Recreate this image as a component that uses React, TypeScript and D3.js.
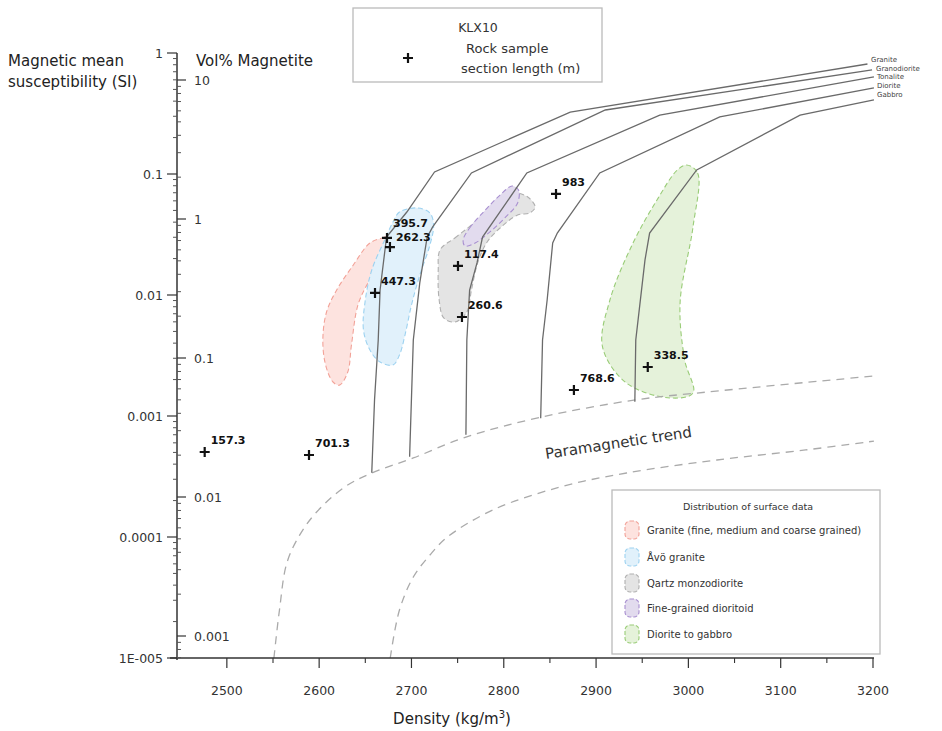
import React from 'react';
import * as d3 from 'd3';

const xTicks = [2500, 2600, 2700, 2800, 2900, 3000, 3100, 3200];
const xMinorTicks = [2550, 2650, 2750, 2850, 2950, 3050, 3150];
const susTicks = [1, 0.1, 0.01, 0.001, 0.0001, 0.00001];
const susTickLabels = ['1', '0.1', '0.01', '0.001', '0.0001', '1E-005'];
const volTicks = [10, 1, 0.1, 0.01, 0.001];
const volTickLabels = ['10', '1', '0.1', '0.01', '0.001'];

const rockNames = ['Granite', 'Granodiorite', 'Tonalite', 'Diorite', 'Gabbro'];
const graniteLine = [[2657, 3.4e-4], [2660, 1.36e-3], [2664, 4.25e-3], [2666, 0.011], [2673, 0.0301], [2695, 0.0485], [2725, 0.104], [2872, 0.325], [3194, 0.811]];
const granodioriteLine = [[2698, 4.6e-4], [2702, 4.25e-3], [2709, 0.0126], [2717, 0.0301], [2723, 0.0365], [2765, 0.102], [2910, 0.338], [3199, 0.724]];
const tonaliteLine = [[2759, 7.0e-4], [2760, 4.25e-3], [2763, 0.011], [2771, 0.0184], [2777, 0.0301], [2825, 0.102], [2969, 0.307], [3201, 0.634]];
const dioriteLine = [[2840, 9.6e-4], [2842, 4.25e-3], [2847, 9.1e-3], [2853, 0.0269], [2858, 0.0325], [2904, 0.102], [3034, 0.296], [3201, 0.514]];
const gabbroLine = [[2942, 1.31e-3], [2943, 4.25e-3], [2953, 0.0195], [2958, 0.0325], [3009, 0.108], [3121, 0.307], [3201, 0.409]];
const rockLines = [graniteLine, granodioriteLine, tonaliteLine, dioriteLine, gabbroLine];

const paraUpper = [[2551, 1e-5], [2557, 2.49e-5], [2565, 6.1e-5], [2579, 1.04e-4], [2597, 1.6e-4], [2628, 2.6e-4], [2657, 3.38e-4], [2702, 4.5e-4], [2759, 6.7e-4], [2841, 9.8e-4], [2943, 1.36e-3], [3021, 1.58e-3], [3201, 2.14e-3]];
const paraLower = [[2677, 1e-5], [2687, 2.49e-5], [2702, 4.67e-5], [2720, 7.1e-5], [2739, 1.0e-4], [2788, 1.67e-4], [2861, 2.59e-4], [2933, 3.38e-4], [3031, 4.33e-4], [3127, 5.24e-4], [3201, 6.2e-4]];

const sampleLabels = ['157.3', '701.3', '395.7', '262.3', '447.3', '117.4', '260.6', '983', '768.6', '338.5'];
const sampleDensity = [2476, 2589, 2673.5, 2676.7, 2660.5, 2750.4, 2754.7, 2856.6, 2876, 2956];
const sampleSus = [5.04e-4, 4.76e-4, 0.0296, 0.0249, 0.0104, 0.0174, 0.00658, 0.0684, 0.00164, 0.00254];

const fieldNames = ['Granite (fine, medium and coarse grained)', 'Åvö granite', 'Qartz monzodiorite', 'Fine-grained dioritoid', 'Diorite to gabbro'];
const redField = [[2682, 0.0332], [2671, 0.0301], [2655, 0.0269], [2637, 0.0177], [2619, 0.0110], [2608, 0.00724], [2604, 0.00425], [2607, 0.00264], [2615, 0.00191], [2622, 0.00180], [2631, 0.00231], [2635, 0.00386], [2642, 0.00826], [2653, 0.0126], [2668, 0.0187], [2679, 0.0259]];
const blueField = [[2687, 0.0485], [2707, 0.0524], [2720, 0.0476], [2724, 0.0379], [2720, 0.0259], [2709, 0.0146], [2700, 0.00826], [2693, 0.00467], [2687, 0.00319], [2680, 0.00264], [2666, 0.00279], [2655, 0.00351], [2648, 0.00514], [2650, 0.00909], [2657, 0.0161], [2671, 0.0285], [2680, 0.0401]];
const grayField = [[2731, 0.0236], [2747, 0.0296], [2769, 0.0401], [2790, 0.0554], [2810, 0.0697], [2826, 0.0645], [2834, 0.0533], [2828, 0.0476], [2815, 0.0458], [2796, 0.0358], [2782, 0.0274], [2772, 0.0187], [2765, 0.0110], [2760, 0.00724], [2747, 0.00598], [2735, 0.00646], [2730, 0.00909], [2729, 0.0161]];
const purpleField = [[2756, 0.0285], [2763, 0.0358], [2780, 0.0504], [2796, 0.0670], [2809, 0.0796], [2816, 0.0738], [2815, 0.0576], [2801, 0.0433], [2785, 0.0332], [2769, 0.0269], [2758, 0.0254]];
const greenField = [[2998, 0.1186], [3010, 0.102], [3005, 0.0365], [2991, 0.00859], [2996, 0.00290], [3005, 0.00155], [2980, 0.00141], [2933, 0.00187], [2907, 0.00372], [2915, 0.00909], [2940, 0.0269], [2966, 0.0610], [2988, 0.108]];
const fields = [redField, blueField, grayField, purpleField, greenField];
const fieldFill = ['#fde3df', '#e1f1fb', '#e4e4e4', '#e2dbee', '#e5f2da'];
const fieldStroke = ['#f2a298', '#9dd2f0', '#b0b0b0', '#a88fd0', '#99cc77'];

const FONT = '"DejaVu Sans", sans-serif';

export default function App() {
  const x = d3.scaleLinear().domain([2446, 3200]).range([177, 873]);
  const yS = d3.scaleLog().domain([1e-5, 1]).range([658, 53]);
  const yV = d3.scaleLog().domain([0.001, 10]).range([636, 80]);

  const line = d3.line<number[]>().x(d => x(d[0])).y(d => yS(d[1]));
  const smooth = d3.line<number[]>().x(d => x(d[0])).y(d => yS(d[1])).curve(d3.curveCatmullRom.alpha(0.5));
  const blob = d3.line<number[]>().x(d => x(d[0])).y(d => yS(d[1])).curve(d3.curveCatmullRomClosed.alpha(0.5));

  const axisX = x(2446);
  const axisY = yS(1e-5);

  const susMinor: number[] = [];
  for (let e = -5; e < 0; e++) for (let m = 2; m <= 9; m++) susMinor.push(m * Math.pow(10, e));
  const volMinor: number[] = [];
  for (let e = -4; e < 1; e++) for (let m = 2; m <= 9; m++) {
    const v = m * Math.pow(10, e);
    const py = yV(v);
    if (py >= 53 && py <= 658) volMinor.push(v);
  }

  const labelPos = [[871, 62], [876, 70.5], [877, 79], [877, 87.5], [877, 96.5]];
  const labelDy = [-8, -8, -11, -6, -8, -8, -8, -8, -8, -8];
  const legendY = [530, 557, 583, 608, 634];

  return (
    <svg width={942} height={731} style={{ position: 'absolute', left: 0, top: 0, background: '#fff' }} fontFamily={FONT}>
      <rect x={0} y={0} width={942} height={731} fill="#fff" />
      {fields.map((f, i) => (
        <path key={'f' + i} d={blob(f) || ''} fill={fieldFill[i]} stroke={fieldStroke[i]} strokeWidth={1.1} strokeDasharray="5,3" />
      ))}
      <path d={smooth(paraUpper) || ''} fill="none" stroke="#aaa" strokeWidth={1.3} strokeDasharray="8,6" />
      <path d={smooth(paraLower) || ''} fill="none" stroke="#aaa" strokeWidth={1.3} strokeDasharray="8,6" />
      {rockLines.map((r, i) => (
        <path key={'r' + i} d={line(r) || ''} fill="none" stroke="#6a6a6a" strokeWidth={1.3} />
      ))}
      {rockNames.map((n, i) => (
        <text key={'rn' + i} x={labelPos[i][0]} y={labelPos[i][1]} fontSize={7} fill="#444">{n}</text>
      ))}
      <text transform="translate(546,459) rotate(-8.6)" fontSize={15} fill="#333">Paramagnetic trend</text>

      {sampleLabels.map((l, i) => {
        const px = x(sampleDensity[i]);
        const py = yS(sampleSus[i]);
        return (
          <g key={'s' + i}>
            <path d={`M${px - 5},${py}H${px + 5}M${px},${py - 5}V${py + 5}`} stroke="#111" strokeWidth={2.2} />
            <text x={px + 6} y={py + labelDy[i]} fontSize={11} fontWeight="bold" fill="#111">{l}</text>
          </g>
        );
      })}

      <line x1={axisX} y1={53} x2={axisX} y2={axisY + 2} stroke="#333" strokeWidth={1.5} />
      <line x1={170} y1={axisY} x2={874} y2={axisY} stroke="#333" strokeWidth={1.5} />
      {xTicks.map(t => (
        <g key={'xt' + t}>
          <line x1={x(t)} y1={axisY} x2={x(t)} y2={axisY + 10} stroke="#333" strokeWidth={1.2} />
          <text x={x(t)} y={695} fontSize={12.5} textAnchor="middle" fill="#333">{t}</text>
        </g>
      ))}
      {xMinorTicks.map(t => (
        <line key={'xm' + t} x1={x(t)} y1={axisY} x2={x(t)} y2={axisY + 5} stroke="#333" strokeWidth={1.1} />
      ))}
      {susTicks.map((t, i) => (
        <g key={'st' + i}>
          <line x1={axisX - 10} y1={yS(t)} x2={axisX} y2={yS(t)} stroke="#333" strokeWidth={1.2} />
          <text x={163} y={yS(t)} dy="0.36em" fontSize={12.5} textAnchor="end" fill="#333">{susTickLabels[i]}</text>
        </g>
      ))}
      {susMinor.map((t, i) => (
        <line key={'sm' + i} x1={axisX - 4} y1={yS(t)} x2={axisX} y2={yS(t)} stroke="#555" strokeWidth={1} />
      ))}
      {volTicks.map((t, i) => (
        <g key={'vt' + i}>
          <line x1={axisX} y1={yV(t)} x2={axisX + 9} y2={yV(t)} stroke="#333" strokeWidth={1.2} />
          <text x={194} y={yV(t)} dy="0.36em" fontSize={12.5} fill="#333">{volTickLabels[i]}</text>
        </g>
      ))}
      {volMinor.map((t, i) => (
        <line key={'vm' + i} x1={axisX} y1={yV(t)} x2={axisX + 4} y2={yV(t)} stroke="#555" strokeWidth={1} />
      ))}

      <text x={8} y={66} fontSize={15} fill="#222">Magnetic mean</text>
      <text x={8} y={87} fontSize={15} fill="#222">susceptibility (SI)</text>
      <text x={196} y={66} fontSize={15} fill="#222">Vol% Magnetite</text>
      <text x={452} y={724} fontSize={15} textAnchor="middle" fill="#222">Density (kg/m<tspan fontSize={10} dy={-6}>3</tspan><tspan dy={6}>)</tspan></text>

      <rect x={353} y={8} width={249} height={74} fill="#fff" stroke="#bbb" strokeWidth={1.3} />
      <text x={478} y={32} fontSize={12.5} textAnchor="middle" fill="#333">KLX10</text>
      <path d="M403,58H413M408,53V63" stroke="#111" strokeWidth={2.2} />
      <text x={466} y={53} fontSize={13} fill="#333">Rock sample</text>
      <text x={461} y={73} fontSize={13} fill="#333">section length (m)</text>

      <rect x={612} y={490} width={268} height={164} fill="#fff" stroke="#bbb" strokeWidth={1.3} />
      <text x={748} y={510} fontSize={9.5} textAnchor="middle" fill="#333">Distribution of surface data</text>
      {fieldNames.map((n, i) => (
        <g key={'lg' + i}>
          <rect x={625} y={legendY[i] - 9} width={14} height={18} rx={5} fill={fieldFill[i]} stroke={fieldStroke[i]} strokeWidth={1.1} strokeDasharray="4,2" />
          <text x={647} y={legendY[i] + 3.5} fontSize={10} fill="#333">{n}</text>
        </g>
      ))}
    </svg>
  );
}
